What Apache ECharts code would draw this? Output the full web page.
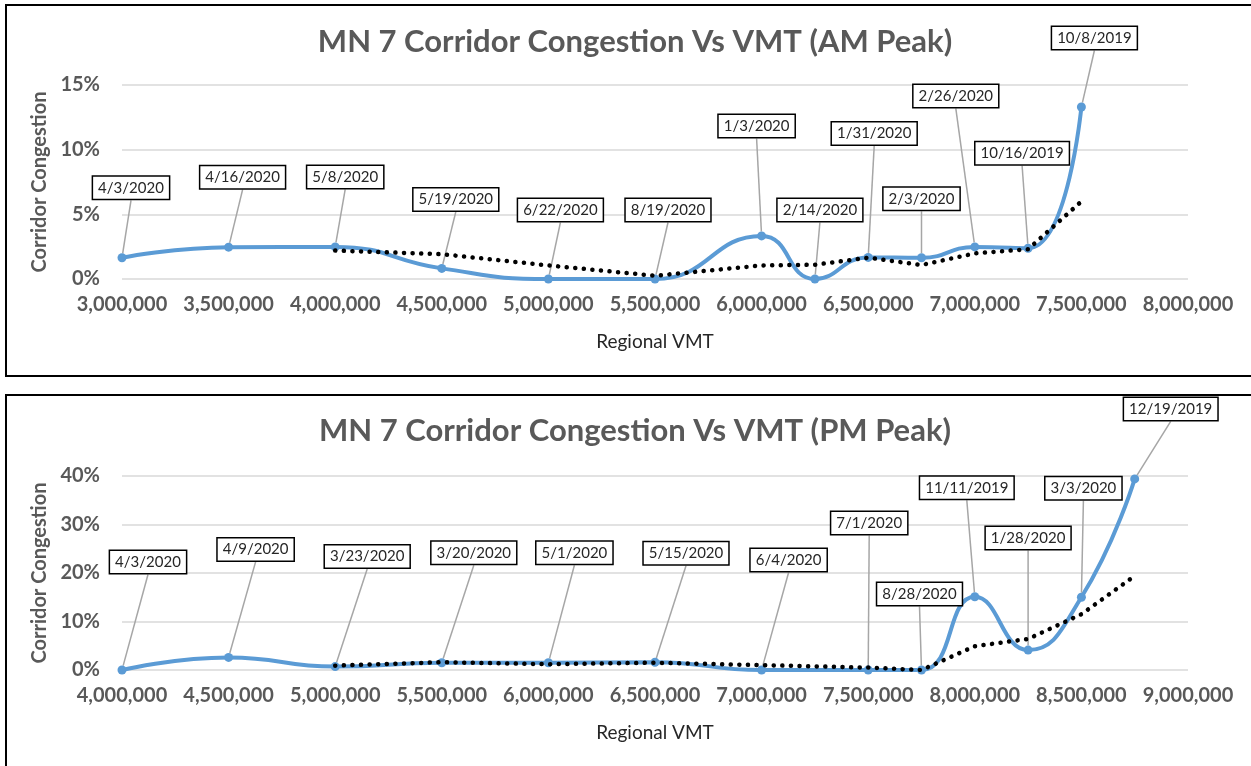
<!DOCTYPE html>
<html>
<head>
<meta charset="utf-8">
<title>MN 7 Corridor Congestion Vs VMT</title>
<script src="https://cdn.jsdelivr.net/npm/echarts@6/dist/echarts.min.js"></script>
<style>
  html, body { margin: 0; padding: 0; background: #fff; }
  #chart { width: 1251px; height: 766px; }
</style>
</head>
<body>
<div id="chart"></div>
<script>
// AM peak
const amVmt = [3000000, 3500000, 4000000, 4500000, 5000000, 5500000, 6000000, 6250000, 6500000, 6750000, 7000000, 7250000, 7500000]
const amCongestion = [1.64, 2.46, 2.48, 0.82, 0, 0, 3.33, 0, 1.67, 1.64, 2.48, 2.38, 13.3]
const amTrend = [null, null, 2.2, 1.92, 1.05, 0.25, 1.05, 1.1, 1.65, 1.08, 1.98, 2.3, 6.0]
const amDates = ['4/3/2020', '4/16/2020', '5/8/2020', '5/19/2020', '6/22/2020', '8/19/2020', '1/3/2020',
  '2/14/2020', '1/31/2020', '2/3/2020', '2/26/2020', '10/16/2019', '10/8/2019']

// PM peak
const pmVmt = [4000000, 4500000, 5000000, 5500000, 6000000, 6500000, 7000000, 7500000, 7750000, 8000000, 8250000, 8500000, 8750000]
const pmCongestion = [0, 2.6, 0.7, 1.5, 1.5, 1.6, 0, 0, 0, 15.1, 4.1, 15.0, 39.4]
const pmTrend = [null, null, 0.9, 1.6, 1.2, 1.5, 1.0, 0.5, 0.0, 4.9, 6.4, 11.5, 19.4]
const pmDates = ['4/3/2020', '4/9/2020', '3/23/2020', '3/20/2020', '5/1/2020', '5/15/2020', '6/4/2020',
  '7/1/2020', '8/28/2020', '11/11/2019', '1/28/2020', '3/3/2020', '12/19/2019']

// callout box offsets (px) from each point
const amLabelOffset = [[9, -70], [14, -70], [10, -70], [14, -69], [12, -69], [13, -69], [-5, -110],
  [5, -69], [6, -124], [0, -59], [-19, -151], [-6, -95], [13, -69]]
const pmLabelOffset = [[26, -108], [27, -108], [32, -110], [32, -110], [26, -110], [31, -109], [27, -110],
  [1, -147], [-2, -76], [-8, -109], [0, -112], [2, -109], [36, -70]]

const FONT = 'Lato'
const GREY = '#595959'
const BLUE = '#5B9BD5'

function pairs(xs, ys) {
  return xs.map((x, i) => [x, ys[i] == null ? '-' : ys[i]])
}

function calloutLayout(offsets) {
  return function (p) {
    const o = offsets[p.dataIndex]
    const cx = p.rect.x + p.rect.width / 2
    const cy = p.rect.y + p.rect.height / 2
    const bx = cx + o[0]
    const by = cy + o[1]
    const bottom = by + p.labelRect.height / 2
    return {
      x: bx,
      y: by,
      align: 'center',
      verticalAlign: 'middle',
      labelLinePoints: [[cx, cy], [bx, bottom], [bx, bottom]]
    }
  }
}

function xAxisFor(idx, min, max) {
  return {
    type: 'value',
    gridIndex: idx,
    min: min,
    max: max,
    interval: 500000,
    name: 'Regional VMT',
    nameLocation: 'middle',
    nameGap: 53,
    nameTextStyle: { fontFamily: FONT, fontSize: 19, color: '#262626' },
    axisLine: { show: false },
    axisTick: { show: false },
    splitLine: { show: false },
    axisLabel: {
      margin: 16,
      fontFamily: FONT,
      fontSize: 20,
      fontWeight: 'bold',
      color: GREY,
      formatter: v => v.toLocaleString('en-US')
    }
  }
}

function yAxisFor(idx, max, step) {
  return {
    type: 'value',
    gridIndex: idx,
    min: 0,
    max: max,
    interval: step,
    name: 'Corridor Congestion',
    nameLocation: 'middle',
    nameGap: 68,
    nameTextStyle: { fontFamily: FONT, fontSize: 20, fontWeight: 'bold', color: GREY },
    axisLine: { show: false },
    axisTick: { show: false },
    splitLine: { lineStyle: { color: '#d9d9d9', width: 1.5 } },
    axisLabel: {
      margin: 22,
      fontFamily: FONT,
      fontSize: 20,
      fontWeight: 'bold',
      color: GREY,
      formatter: '{value}%'
    }
  }
}

function congestionSeries(idx, xs, ys, dates, offsets) {
  return {
    type: 'line',
    xAxisIndex: idx,
    yAxisIndex: idx,
    data: pairs(xs, ys),
    smooth: 0.5,
    symbol: 'circle',
    symbolSize: 9,
    lineStyle: { color: BLUE, width: 4 },
    itemStyle: { color: BLUE },
    label: {
      show: true,
      position: 'top',
      formatter: p => dates[p.dataIndex],
      fontFamily: FONT,
      fontSize: 15,
      color: '#262626',
      backgroundColor: '#fff',
      borderColor: '#000',
      borderWidth: 1.5,
      padding: [4, 5, 3, 5]
    },
    labelLine: { show: true, lineStyle: { color: '#a6a6a6', width: 1.5 } },
    labelLayout: calloutLayout(offsets),
    z: 3
  }
}

function trendSeries(idx, xs, ys) {
  return {
    type: 'line',
    xAxisIndex: idx,
    yAxisIndex: idx,
    data: pairs(xs, ys),
    symbol: 'none',
    silent: true,
    lineStyle: { color: '#000', width: 4.5, type: [0.1, 8.5], cap: 'round' },
    z: 4
  }
}

const chart = echarts.init(document.getElementById('chart'))

chart.setOption({
  animation: false,
  title: [{
    text: 'MN 7 Corridor Congestion Vs VMT (AM Peak)',
    left: 630,
    top: 21,
    textAlign: 'center',
    textStyle: { fontFamily: FONT, fontSize: 31, fontWeight: 'bold', color: GREY }
  }, {
    text: 'MN 7 Corridor Congestion Vs VMT (PM Peak)',
    left: 630,
    top: 410,
    textAlign: 'center',
    textStyle: { fontFamily: FONT, fontSize: 31, fontWeight: 'bold', color: GREY }
  }],
  graphic: [{
    type: 'rect',
    shape: { x: 6, y: 5, width: 1270, height: 371 },
    style: { fill: 'none', stroke: '#000', lineWidth: 2 },
    silent: true
  }, {
    type: 'rect',
    shape: { x: 6, y: 395, width: 1270, height: 400 },
    style: { fill: 'none', stroke: '#000', lineWidth: 2 },
    silent: true
  }],
  grid: [
    { left: 122, right: 63, top: 85, height: 194 },
    { left: 122, right: 63, top: 476, height: 194 }
  ],
  xAxis: [xAxisFor(0, 3000000, 8000000), xAxisFor(1, 4000000, 9000000)],
  yAxis: [yAxisFor(0, 15, 5), yAxisFor(1, 40, 10)],
  series: [
    congestionSeries(0, amVmt, amCongestion, amDates, amLabelOffset),
    trendSeries(0, amVmt, amTrend),
    congestionSeries(1, pmVmt, pmCongestion, pmDates, pmLabelOffset),
    trendSeries(1, pmVmt, pmTrend)
  ]
})
</script>
</body>
</html>
